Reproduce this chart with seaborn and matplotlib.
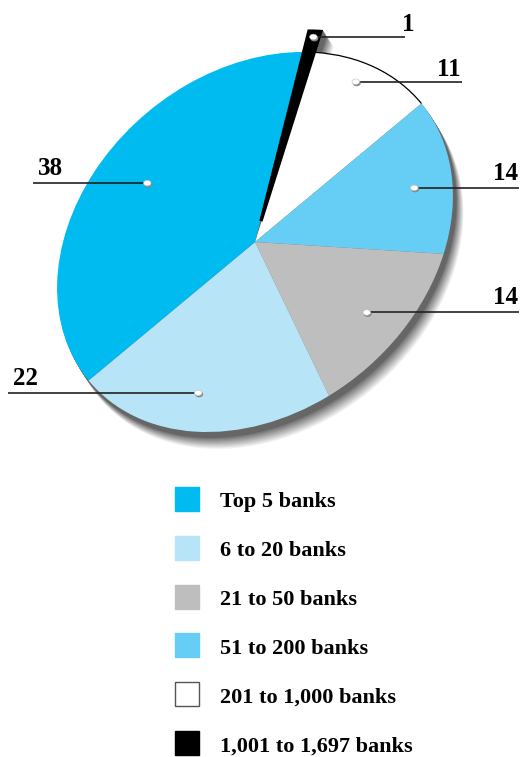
import numpy as np
import matplotlib
matplotlib.use("Agg")
import matplotlib.pyplot as plt
import seaborn as sns
from matplotlib.patches import Wedge, Ellipse, Rectangle, PathPatch
from matplotlib.path import Path
from matplotlib.transforms import Affine2D

# Share of banking assets by bank size group
categories = ["Top 5 banks", "6 to 20 banks", "21 to 50 banks",
              "51 to 200 banks", "201 to 1,000 banks", "1,001 to 1,697 banks"]
shares = [38, 22, 14, 14, 11, 1]
share_labels = ["38", "22", "14", "14", "11", "1"]
colors = ["#00BBF0", "#B8E4F8", "#BEBEBE", "#66CDF4", "#FFFFFF", "#000000"]

sns.set_style("white")
plt.rcParams["font.family"] = ["Liberation Serif", "DejaVu Serif"]
plt.rcParams["font.weight"] = "bold"

fig = plt.figure(figsize=(5.22, 7.57), dpi=100)
ax = fig.add_axes([0, 0, 1, 1])
ax.set_xlim(0, 522)
ax.set_ylim(757, 0)
ax.axis("off")

# tilted disc: unit circle -> page pixels
cx, cy = 255, 242
tilt = Affine2D(np.array([[48.0, 192.0, cx], [-190.0, 0.0, cy], [0, 0, 1]]))

# slices run clockwise from the top, smallest group first
order = list(range(len(shares)))[::-1]
total = float(sum(shares))
starts, ends = {}, {}
acc = 0.0
for i in order:
    starts[i] = acc / total * 360.0
    acc += shares[i]
    ends[i] = acc / total * 360.0

explode = {5: 0.11}
thin_idx = 5  # the sliver gets a heavy stroke so it stays visible

def slice_center(i):
    e = explode.get(i, 0.0)
    mid = np.deg2rad((starts[i] + ends[i]) / 2)
    return (e * np.cos(mid), e * np.sin(mid))

# drop shadow / thickness of the disc
n_layers = 14
for k in range(n_layers, 0, -1):
    if k <= 5:
        g = 0.40
    else:
        g = 0.42 + (k - 5) / (n_layers - 5) * 0.52
    shift = Affine2D().translate(0.75 * k, 1.2 * k)
    tr = tilt + shift + ax.transData
    ax.add_patch(Ellipse((0, 0), 2, 2, facecolor=(g, g, g), edgecolor="none",
                         transform=tr, zorder=1))
    ax.add_patch(Wedge(slice_center(thin_idx), 1.0, starts[thin_idx],
                       ends[thin_idx], facecolor=(g, g, g), edgecolor=(g, g, g),
                       lw=2.4, joinstyle="miter", transform=tr, zorder=1))

# slices
for i in order:
    heavy = i == thin_idx
    ax.add_patch(Wedge(slice_center(i), 1.0, starts[i], ends[i],
                       facecolor=colors[i],
                       edgecolor=colors[i] if heavy else "none",
                       lw=2.4 if heavy else 0, joinstyle="miter",
                       transform=tilt + ax.transData, zorder=2 + heavy))

# outline along the rim of the white slice
arc = Path.arc(starts[4], ends[4])
ax.add_patch(PathPatch(arc, facecolor="none", edgecolor="black", lw=0.9,
                       transform=tilt + ax.transData, zorder=3))

# value callouts: (radius of pin, angle shift in degrees, end of leader, side)
callouts = {
    0: (0.71, 4.3, 33, "left"),
    1: (0.80, 3.4, 8, "left"),
    2: (0.77, 0.0, 519, "right"),
    3: (0.81, 1.0, 519, "right"),
    4: (0.90, -3.0, 462, "right"),
    5: (0.97, 0.0, 405, "right"),
}
for i, (r, dang, x_end, side) in callouts.items():
    c = slice_center(i)
    ang = np.deg2rad((starts[i] + ends[i]) / 2 + dang)
    px, py = tilt.transform((c[0] + r * np.cos(ang), c[1] + r * np.sin(ang)))
    ax.plot([px, x_end], [py, py], color="#222222", lw=1.2, zorder=4,
            solid_capstyle="butt")
    ax.add_patch(Ellipse((px + 1.0, py + 1.5), 8, 6, facecolor="#8a8a8a",
                         edgecolor="none", zorder=5))
    ax.add_patch(Ellipse((px, py), 7.5, 5.5, facecolor="white",
                         edgecolor="#bbbbbb", lw=0.4, zorder=6))
    gap = 6 if i >= 4 else 8
    if side == "left":
        ax.text(x_end + 5, py - gap, share_labels[i], ha="left", va="baseline",
                fontsize=18, fontweight="bold", color="black")
    else:
        tx = x_end + 10 if i == 5 else x_end - 1
        ax.text(tx, py - gap, share_labels[i], ha="right", va="baseline",
                fontsize=18, fontweight="bold", color="black")

# legend
y0, step = 499, 48.8
for j, name in enumerate(categories):
    yc = y0 + j * step
    ax.add_patch(Rectangle((175, yc - 12), 24, 24, facecolor=colors[j],
                           edgecolor="#555555" if colors[j] == "#FFFFFF" else colors[j],
                           lw=1.0, zorder=3))
    ax.text(220, yc + 8.5, name, ha="left", va="baseline", fontsize=16,
            fontweight="bold", color="black")

fig.savefig("out.png", dpi=100, facecolor="white")
